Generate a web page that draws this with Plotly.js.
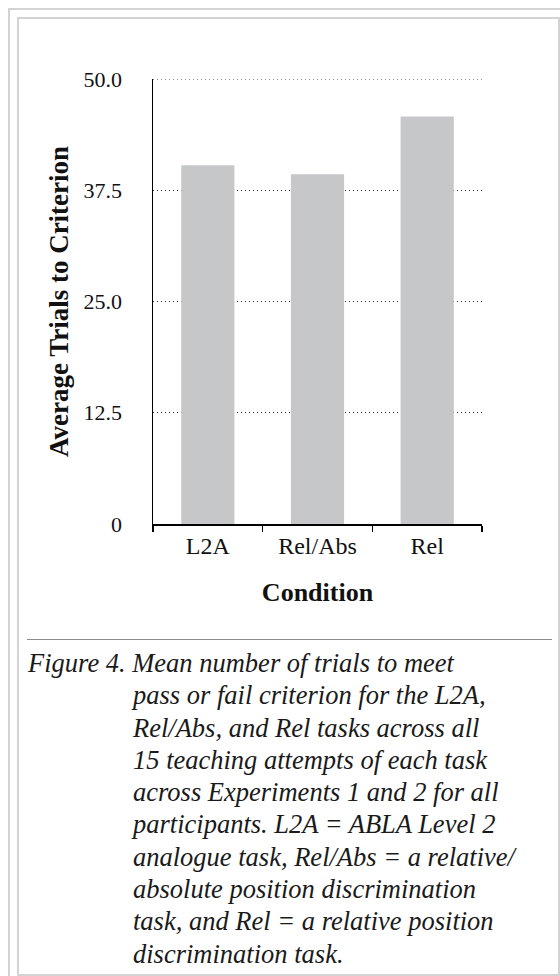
<!DOCTYPE html>
<html>
<head>
<meta charset="utf-8">
<script src="https://cdn.plot.ly/plotly-3.0.1.min.js"></script>
<style>
  html, body { margin: 0; padding: 0; background: #ffffff; }
  #page { position: relative; width: 560px; height: 976px; overflow: hidden; background: #fff; }
  #outer { position: absolute; left: 8px; top: 8px; width: 600px; height: 1000px; border: 2px solid #d3d3d3; box-sizing: border-box; }
  #inner { position: absolute; left: 17px; top: 17px; width: 543px; height: 959px; border: 2px solid #d3d3d3; box-sizing: border-box; background: #fff; }
  #chart { position: absolute; left: 0; top: 0; width: 560px; height: 640px; }
  #sep { position: absolute; left: 27px; top: 639px; width: 525px; height: 0; border-top: 1.3px solid #8c8c8c; }
  #caption { position: absolute; left: 28px; top: 647px; width: 525px; font-family: "Liberation Serif", serif; font-style: italic; font-size: 26.5px; line-height: 32.3px; color: #1a1a1a; }
  #caption div { white-space: nowrap; }
  #caption .ind { padding-left: 105px; }
</style>
</head>
<body>
<div id="page">
  <div id="outer"></div>
  <div id="inner"></div>
  <div id="chart"></div>
  <div id="sep"></div>
  <div id="caption"></div>
</div>
<script>
// ---- data ----
const categories = ["L2A", "Rel/Abs", "Rel"];
const meanTrials = [40.3, 39.3, 45.8];
const yTickValues = [0, 12.5, 25, 37.5, 50];
const yTickLabels = ["0", "12.5", "25.0", "37.5", "50.0"];
const xAxisTitle = "Condition";
const yAxisTitle = "Average Trials to Criterion";
const captionLines = [
  "Figure 4. Mean number of trials to meet",
  "pass or fail criterion for the L2A,",
  "Rel/Abs, and Rel tasks across all",
  "15 teaching attempts of each task",
  "across Experiments 1 and 2 for all",
  "participants. L2A = ABLA Level 2",
  "analogue task, Rel/Abs = a relative/",
  "absolute position discrimination",
  "task, and Rel = a relative position",
  "discrimination task."
];

// ---- caption ----
const cap = document.getElementById("caption");
captionLines.forEach((t, i) => {
  const d = document.createElement("div");
  d.textContent = t;
  if (i > 0) d.className = "ind";
  cap.appendChild(d);
});

// ---- chart ----
const FONT = "Liberation Serif, serif";
const yMin = yTickValues[0];
const yMax = yTickValues[yTickValues.length - 1];
const trace = {
  type: "bar",
  x: categories,
  y: meanTrials,
  marker: { color: "#c6c7c9", line: { width: 0 } },
  width: 0.485,
  hoverinfo: "skip"
};

const layout = {
  width: 560,
  height: 640,
  margin: { l: 153, r: 78, t: 79, b: 116, pad: 0 },
  paper_bgcolor: "rgba(0,0,0,0)",
  plot_bgcolor: "rgba(0,0,0,0)",
  showlegend: false,
  font: { family: FONT, size: 20, color: "#111" },
  xaxis: {
    type: "category",
    range: [-0.5, categories.length - 0.5],
    tickson: "boundaries",
    ticks: "outside",
    ticklen: 6,
    tickwidth: 1.3,
    tickcolor: "#000",
    showline: true,
    linecolor: "#000",
    linewidth: 1.5,
    showgrid: false,
    zeroline: false,
    fixedrange: true,
    tickfont: { family: FONT, size: 24, color: "#111" },
    title: { text: xAxisTitle, font: { family: FONT, size: 26, color: "#111", weight: "bold" }, standoff: 24 },
    automargin: false
  },
  yaxis: {
    range: [yMin, yMax],
    tickmode: "array",
    tickvals: yTickValues,
    ticktext: yTickLabels,
    ticks: "",
    ticklabelstandoff: 25,
    showline: true,
    linecolor: "#000",
    linewidth: 1.5,
    showgrid: true,
    gridcolor: "#222",
    griddash: "1px,3px",
    gridwidth: 1,
    zeroline: false,
    fixedrange: true,
    tickfont: { family: FONT, size: 22, color: "#111" },
    title: { text: yAxisTitle, font: { family: FONT, size: 27, color: "#111", weight: "bold" }, standoff: 7 },
    automargin: false
  },
  shapes: [{
    type: "line", xref: "paper", yref: "y",
    x0: 0, x1: 1, y0: yMax, y1: yMax,
    line: { color: "#222", width: 1, dash: "1px,3px" }, layer: "below"
  }]
};

Plotly.newPlot("chart", [trace], layout, { displayModeBar: false, staticPlot: true });
</script>
</body>
</html>
